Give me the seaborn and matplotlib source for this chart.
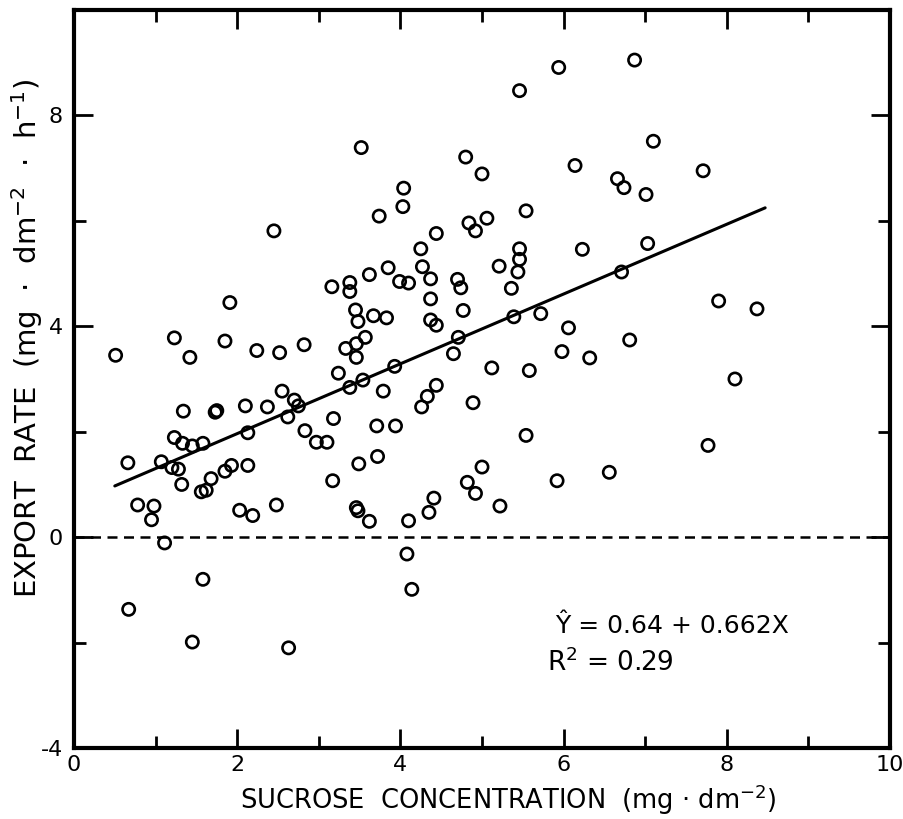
import numpy as np
import pandas as pd
import matplotlib
matplotlib.use("Agg")
import matplotlib.pyplot as plt
from matplotlib.ticker import MultipleLocator
import seaborn as sns

# ---- data ----
sucrose = [
    0.51, 1.23, 1.42, 1.85, 1.91, 2.24, 2.52, 2.82, 3.24, 1.34,
    1.73, 1.75, 2.10, 2.37, 2.55, 2.70, 2.75, 2.62, 3.18, 2.83,
    2.97, 3.10, 1.23, 1.33, 1.45, 1.58, 2.13, 0.66, 1.07, 1.20,
    1.28, 1.32, 1.68, 1.56, 1.62, 1.85, 1.93, 2.13, 3.17, 0.78,
    0.98, 0.95, 2.03, 2.19, 2.48, 1.11, 3.52, 4.80, 5.00, 4.04,
    4.03, 3.74, 4.84, 4.92, 5.06, 4.44, 4.25, 5.21, 3.85, 3.62,
    4.27, 4.37, 3.99, 4.10, 4.70, 4.74, 3.38, 3.38, 3.16, 4.37,
    4.77, 3.45, 3.48, 3.67, 3.83, 4.37, 4.44, 3.57, 3.46, 3.33,
    3.46, 4.71, 4.65, 7.10, 6.14, 6.66, 6.74, 7.01, 5.54, 5.46,
    5.46, 5.44, 5.36, 6.23, 7.03, 6.71, 5.39, 5.72, 6.06, 6.81,
    5.98, 6.32, 5.46, 5.94, 6.87, 7.71, 7.90, 8.37, 8.10, 7.77,
    3.38, 3.54, 3.93, 5.12, 3.79, 4.44, 4.33, 4.26, 4.89, 3.71,
    3.94, 3.72, 3.49, 5.00, 4.82, 4.92, 5.22, 4.41, 4.35, 3.46,
    3.48, 3.62, 4.10, 5.58, 5.54, 5.92, 6.56, 1.58, 0.67, 1.45,
    2.63, 4.08, 4.14, 2.45,
]
export_rate = [
    3.45, 3.78, 3.41, 3.72, 4.45, 3.54, 3.50, 3.65, 3.11, 2.39,
    2.37, 2.40, 2.49, 2.47, 2.77, 2.60, 2.49, 2.28, 2.25, 2.02,
    1.80, 1.80, 1.89, 1.78, 1.73, 1.78, 1.98, 1.41, 1.43, 1.32,
    1.29, 1.00, 1.11, 0.86, 0.89, 1.25, 1.36, 1.36, 1.07, 0.61,
    0.59, 0.33, 0.51, 0.41, 0.61, -0.11, 7.39, 7.21, 6.89, 6.62,
    6.27, 6.09, 5.96, 5.81, 6.05, 5.76, 5.47, 5.14, 5.11, 4.98,
    5.13, 4.90, 4.85, 4.82, 4.89, 4.73, 4.83, 4.66, 4.75, 4.52,
    4.30, 4.31, 4.09, 4.20, 4.16, 4.12, 4.02, 3.79, 3.67, 3.58,
    3.41, 3.79, 3.48, 7.51, 7.05, 6.80, 6.63, 6.50, 6.19, 5.47,
    5.27, 5.03, 4.72, 5.46, 5.57, 5.03, 4.18, 4.24, 3.97, 3.74,
    3.52, 3.40, 8.47, 8.91, 9.05, 6.95, 4.48, 4.33, 3.00, 1.74,
    2.84, 2.98, 3.24, 3.21, 2.77, 2.88, 2.67, 2.47, 2.55, 2.11,
    2.11, 1.53, 1.39, 1.33, 1.04, 0.83, 0.59, 0.74, 0.47, 0.56,
    0.50, 0.30, 0.31, 3.16, 1.93, 1.07, 1.23, -0.80, -1.37, -1.99,
    -2.10, -0.32, -0.99, 5.81,
]

intercept = 0.64
slope = 0.662
fit_range = [0.5, 8.47]

x_ticks = [0, 2, 4, 6, 8, 10]
y_ticks = [-4, 0, 4, 8]

x_label = "SUCROSE  CONCENTRATION  (mg \u00b7 dm$^{-2}$)"
y_label = "EXPORT  RATE  (mg  \u00b7  dm$^{-2}$  \u00b7  h$^{-1}$)"
eq_text = "\u0176 = 0.64 + 0.662X"
r2_text = "R$^{2}$ = 0.29"

# ---- plotting ----
sns.set_theme(style="white")
plt.rcParams["font.family"] = ["DejaVu Sans"]
plt.rcParams["mathtext.fontset"] = "dejavusans"
plt.rcParams["axes.unicode_minus"] = False
plt.rcParams["text.color"] = "black"
plt.rcParams["axes.labelcolor"] = "black"
plt.rcParams["xtick.color"] = "black"
plt.rcParams["ytick.color"] = "black"

df = pd.DataFrame({"x": sucrose, "y": export_rate})
fit_df = pd.DataFrame({"x": fit_range,
                       "y": [intercept + slope * v for v in fit_range]})
zero_df = pd.DataFrame({"x": [0, 10], "y": [0, 0]})

fig = plt.figure(figsize=(9.04, 8.19), dpi=100)
ax = fig.add_axes([74 / 904, 71 / 819, 816 / 904, 738 / 819])

sns.lineplot(data=zero_df, x="x", y="y", ax=ax, color="black",
             linewidth=1.8, dashes=False, linestyle=(0, (4, 2.6)))
sns.lineplot(data=fit_df, x="x", y="y", ax=ax, color="black", linewidth=2.2)
sns.scatterplot(data=df, x="x", y="y", ax=ax, s=78, facecolor="none",
                edgecolor="black", linewidth=1.9, zorder=3)

ax.set_xlim(0, 10)
ax.set_ylim(-4, 10)
ax.set_xticks(x_ticks)
ax.set_yticks(y_ticks)
ax.xaxis.set_minor_locator(MultipleLocator(1))
ax.yaxis.set_minor_locator(MultipleLocator(2))
ax.tick_params(which="both", direction="in", top=True, right=True,
               bottom=True, left=True, width=2.0, color="black")
ax.tick_params(which="major", length=14, labelsize=16)
ax.tick_params(which="minor", length=8.5)
ax.tick_params(axis="x", which="major", pad=5)
ax.tick_params(axis="y", which="major", pad=8)
for sp in ax.spines.values():
    sp.set_linewidth(3)
    sp.set_color("black")

ax.set_xlabel(x_label, fontsize=18.5)
ax.set_ylabel(y_label, fontsize=21)
ax.xaxis.set_label_coords((508 - 74) / 816, -0.047)
ax.yaxis.set_label_coords(-0.036, (748 - 338) / 738)

ax.text(5.89, -1.68, eq_text, fontsize=18, va="center", ha="left")
ax.text(5.80, -2.39, r2_text, fontsize=19, va="center", ha="left")

fig.savefig("out.png", dpi=100, facecolor="white")
